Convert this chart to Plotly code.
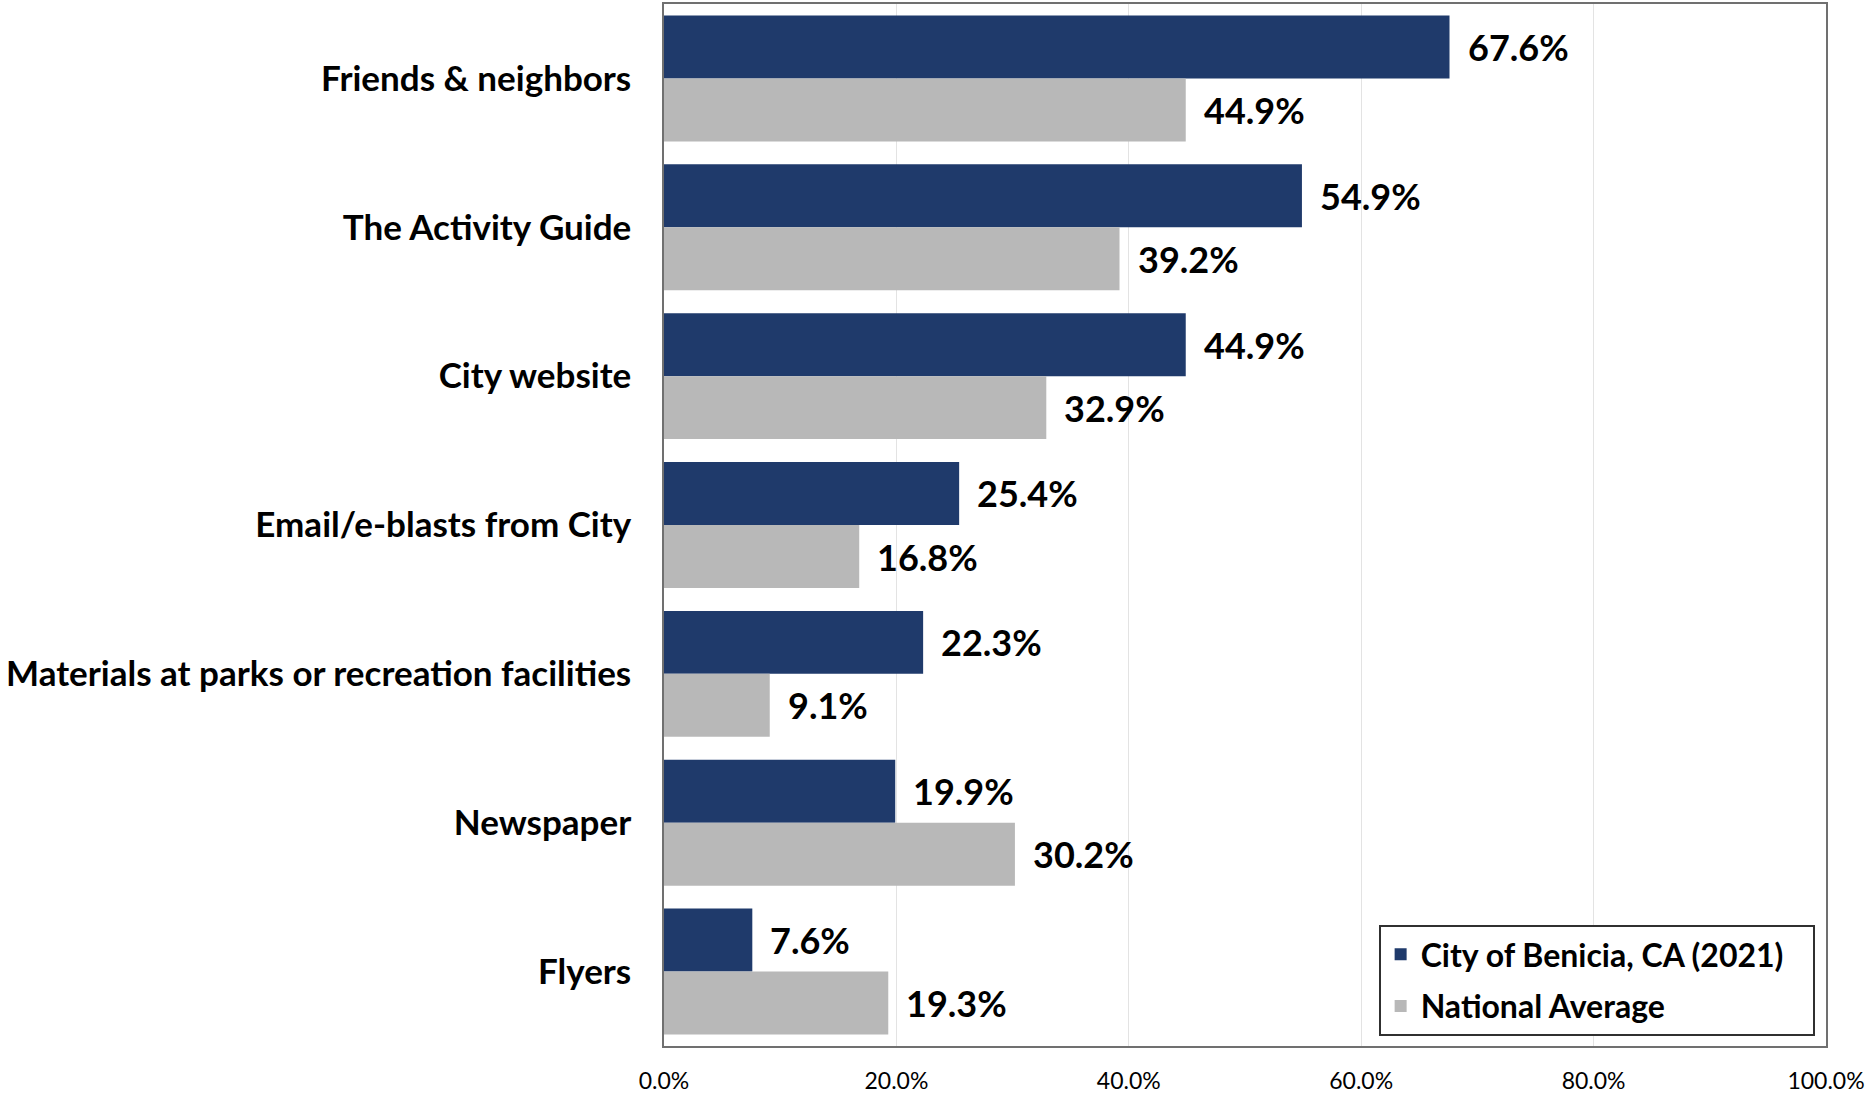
import plotly.graph_objects as go

# Survey: how respondents learn about programs and activities
categories = [
    "Friends & neighbors",
    "The Activity Guide",
    "City website",
    "Email/e-blasts from City",
    "Materials at parks or recreation facilities",
    "Newspaper",
    "Flyers",
]
benicia = [67.6, 54.9, 44.9, 25.4, 22.3, 19.9, 7.6]
national = [44.9, 39.2, 32.9, 16.8, 9.1, 30.2, 19.3]
x_ticks = [0, 20, 40, 60, 80, 100]
x_tick_text = ["0.0%", "20.0%", "40.0%", "60.0%", "80.0%", "100.0%"]

NAVY = "#1F3A6B"
GRAY = "#B8B8B8"
FONT = "Lato"
PAD = "\u00a0" * 3  # right padding inside the legend box

fig = go.Figure()
fig.add_trace(go.Bar(
    y=categories, x=benicia, orientation="h", name="City of Benicia, CA (2021)" + PAD,
    marker=dict(color=NAVY, line=dict(width=0)), legendgroup="a",
    text=[f"{v:.1f}%" for v in benicia], textposition="none",
))
fig.add_trace(go.Bar(
    y=categories, x=national, orientation="h", name="National Average",
    marker=dict(color=GRAY, line=dict(width=0)), legendgroup="b",
    text=[f"{v:.1f}%" for v in national], textposition="none",
))

# Value labels placed just past the end of each bar
for series_idx, values in enumerate([benicia, national]):
    offset = -0.212 if series_idx == 0 else 0.212
    for i, v in enumerate(values):
        fig.add_annotation(
            x=v, y=i + offset, xref="x", yref="y",
            text=f"{v:.1f}%", showarrow=False, xanchor="left", yanchor="middle",
            xshift=16, font=dict(family=FONT, size=36, color="#000000", weight="bold"),
        )

fig.update_layout(
    width=1869, height=1095,
    margin=dict(l=664, r=43, t=4, b=49),
    paper_bgcolor="white", plot_bgcolor="white",
    barmode="group", bargap=0.154, bargroupgap=0,
    font=dict(family=FONT, color="#000000"),
    showlegend=True,
    legend=dict(
        x=0.615, y=0.0096, xanchor="left", yanchor="bottom",
        bgcolor="white", bordercolor="#303030", borderwidth=2,
        font=dict(family=FONT, size=32, color="#000000", weight="bold"),
        traceorder="grouped", tracegroupgap=7,
    ),
)
fig.update_xaxes(
    range=[0, 100], tickvals=x_ticks, ticktext=x_tick_text,
    showgrid=True, gridcolor="#E3E3E3", gridwidth=1,
    showline=True, linecolor="#707070", linewidth=1.5, mirror=True,
    ticks="", tickfont=dict(family=FONT, size=23, color="#000000"),
    ticklabelstandoff=14, zeroline=False, automargin=False,
)
fig.update_yaxes(
    categoryorder="array", categoryarray=categories, autorange="reversed",
    showline=True, linecolor="#707070", linewidth=1.5, mirror=True,
    ticks="", showgrid=False, automargin=False,
    tickfont=dict(family=FONT, size=35, color="#000000", weight="bold"),
    ticklabelstandoff=24,
)

fig.write_html("out.html")
